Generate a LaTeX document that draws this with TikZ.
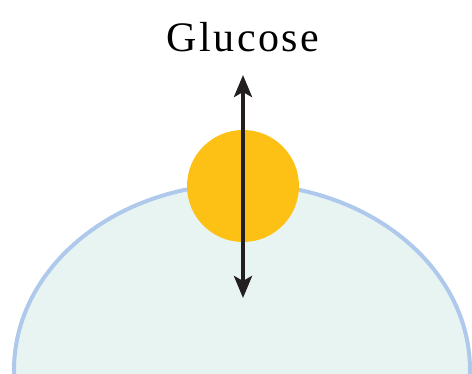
\documentclass[tikz,border=0pt]{standalone}
\usepackage{fontspec}
\setmainfont{Liberation Serif}
\newfontfamily\glufont[LetterSpace=6]{Liberation Serif}
\usetikzlibrary{arrows.meta}
\begin{document}
\begin{tikzpicture}[x=1pt,y=1pt,line join=round]
	\definecolor{cellwall}{RGB}{174,201,235}
	\definecolor{cellfill}{RGB}{232,244,242}
	\definecolor{carrier}{RGB}{253,192,20}
	\definecolor{darkarrow}{RGB}{35,31,32}
	\clip (0,0) rectangle (472,373);
	
	\def\rx{228}
	\def\ry{186}
	\path
	(242,3) coordinate (O)
	(243,187) coordinate (C);
	
	% the cell
	\draw[cellwall,line width=4pt,fill=cellfill] (O) ellipse ({\rx} and {\ry});
	% transporter
	\fill[carrier] (C) circle (56);
	
	\path
	(243,298) coordinate (A)
	(243,75) coordinate (B);
	\draw[darkarrow,line width=4pt,{Stealth[length=22pt,width=18pt,inset=5pt]}-{Stealth[length=22pt,width=18pt,inset=5pt]}] (A)--(B);
	
	\node[anchor=base,inner sep=0pt] (glu) at (243,321) {\fontsize{42}{48}\selectfont\glufont Glucose};
\end{tikzpicture}
\end{document}
